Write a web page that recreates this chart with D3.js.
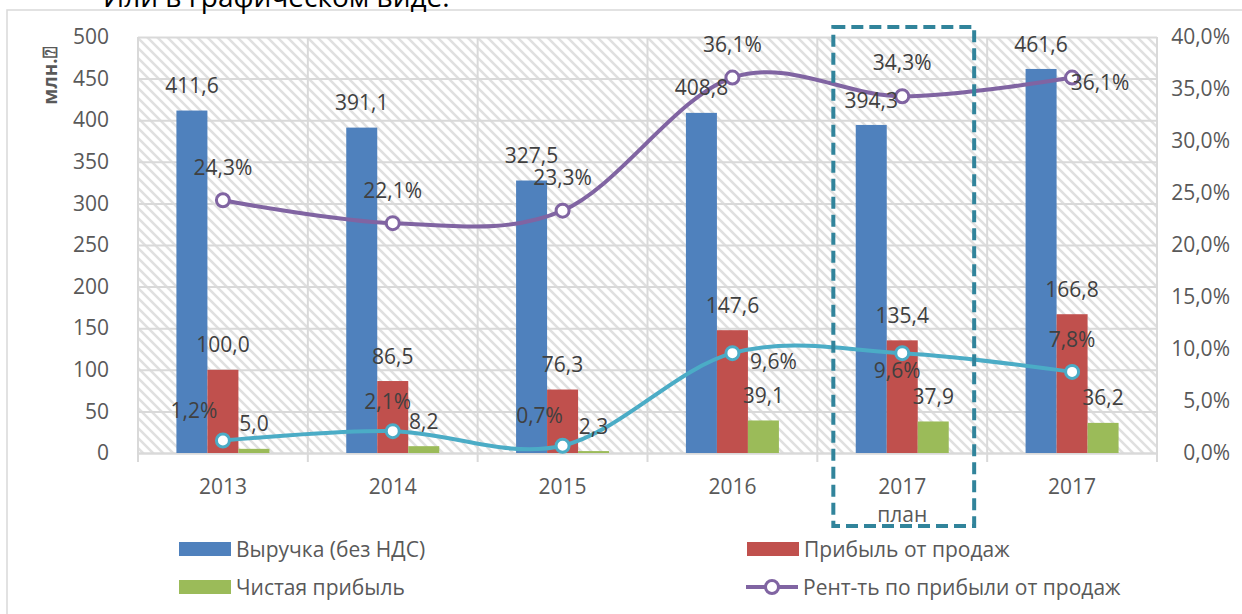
<!DOCTYPE html>
<html>
<head>
<meta charset="utf-8">
<script src="https://cdn.jsdelivr.net/npm/d3@7"></script>
<style>
    body { margin: 0; background: #fff; }
    svg { display: block; }
    text { font-family: "Open Sans", "Noto Sans", sans-serif; }
</style>
</head>
<body>
<div id="chart"></div>
<script>
// chart data
const categories = ["2013", "2014", "2015", "2016", "2017 план", "2017"];
const revenue = [411.6, 391.1, 327.5, 408.8, 394.3, 461.6];
const salesProfit = [100.0, 86.5, 76.3, 147.6, 135.4, 166.8];
const netProfit = [5.0, 8.2, 2.3, 39.1, 37.9, 36.2];
const salesMargin = [24.3, 22.1, 23.3, 36.1, 34.3, 36.1];
const netMargin = [1.2, 2.1, 0.7, 9.6, 9.6, 7.8];
const leftTicks = [0, 50, 100, 150, 200, 250, 300, 350, 400, 450, 500];
const rightTicks = [0, 5, 10, 15, 20, 25, 30, 35, 40];

// manual label placement for the line labels (dx, dy from the marker)
const salesMarginLabelPos = [[0, -33], [0, -33], [0, -33], [0, -33], [0, -34], [28, 5]];
const netMarginLabelPos = [[-29, -30], [-5, -30], [-23, -30], [41, 8], [-5, 17], [0, -32]];

const width = 1242;
const height = 614;
const plot = { left: 138, right: 1157, top: 37, bottom: 453 };

const ru = d3.formatLocale({ decimal: ",", thousands: " ", grouping: [3], currency: ["", ""] });
const f1 = ru.format(".1f");

const svg = d3.select("#chart")
    .append("svg")
    .attr("width", width)
    .attr("height", height);

// hatch pattern for the plot background
const pat = svg.append("defs").append("pattern")
    .attr("id", "hatch")
    .attr("patternUnits", "userSpaceOnUse")
    .attr("width", 10)
    .attr("height", 10);
pat.append("path")
    .attr("d", "M0,0 L10,10 M-5,5 L5,15 M5,-5 L15,5")
    .attr("stroke", "#e0e0e0")
    .attr("stroke-width", 2.6);

// outer frame and title (cut off at the top, as in the source picture)
svg.append("rect")
    .attr("x", 7).attr("y", 10)
    .attr("width", width + 20).attr("height", height)
    .attr("fill", "none")
    .attr("stroke", "#d9d9d9")
    .attr("stroke-width", 1.5);

svg.append("text")
    .attr("x", 103)
    .attr("y", 7)
    .attr("font-size", "28px")
    .attr("fill", "#000")
    .text("Или в графическом виде:");

// scales
const xScale = d3.scaleBand()
    .domain(categories)
    .range([plot.left, plot.right]);
const groupW = 93;
const xSub = d3.scaleBand()
    .domain(["revenue", "sales", "net"])
    .range([(xScale.bandwidth() - groupW) / 2, (xScale.bandwidth() + groupW) / 2]);
const yLeft = d3.scaleLinear().domain([0, 500]).range([plot.bottom, plot.top]);
const yRight = d3.scaleLinear().domain([0, 40]).range([plot.bottom, plot.top]);

svg.append("rect")
    .attr("x", plot.left).attr("y", plot.top)
    .attr("width", plot.right - plot.left)
    .attr("height", plot.bottom - plot.top)
    .attr("fill", "url(#hatch)");

// horizontal gridlines + left axis labels
const leftAxis = svg.append("g")
    .attr("transform", `translate(${plot.left}, 0)`)
    .call(d3.axisLeft(yLeft).tickValues(leftTicks).tickSize(-(plot.right - plot.left)).tickPadding(29));
leftAxis.select(".domain").remove();
leftAxis.selectAll("line").attr("stroke", "#d9d9d9").attr("stroke-width", 2);
leftAxis.selectAll("text")
    .attr("font-size", "21px")
    .attr("fill", "#595959")
    .attr("font-family", "Open Sans");

// right axis labels
const rightAxis = svg.append("g")
    .attr("transform", `translate(${plot.right}, 0)`)
    .call(d3.axisRight(yRight).tickValues(rightTicks).tickSize(0).tickFormat(d => f1(d) + "%"));
rightAxis.select(".domain").remove();
rightAxis.selectAll("text")
    .attr("x", 73)
    .attr("text-anchor", "end")
    .attr("font-size", "21px")
    .attr("fill", "#595959")
    .attr("font-family", "Open Sans");

// vertical gridlines at category edges, with ticks below the axis
const edges = categories.map(c => xScale(c)).concat([plot.right]);
svg.selectAll(".vgrid")
    .data(edges)
    .enter()
    .append("line")
    .attr("class", "vgrid")
    .attr("x1", d => d).attr("x2", d => d)
    .attr("y1", plot.top).attr("y2", plot.bottom + 9)
    .attr("stroke", "#d9d9d9")
    .attr("stroke-width", 2);

// bottom axis labels
const bottomAxis = svg.append("g")
    .attr("transform", `translate(0, ${plot.bottom})`)
    .call(d3.axisBottom(xScale).tickSize(0).tickFormat(""));
bottomAxis.select(".domain").attr("stroke", "#d9d9d9").attr("stroke-width", 2);
categories.forEach(function (c) {
    const parts = c.split(" ");
    const t = svg.append("text")
        .attr("x", xScale(c) + xScale.bandwidth() / 2)
        .attr("y", 494)
        .attr("text-anchor", "middle")
        .attr("font-size", "21px")
        .attr("fill", "#595959");
    parts.forEach(function (p, i) {
        t.append("tspan")
            .attr("x", xScale(c) + xScale.bandwidth() / 2)
            .attr("dy", i == 0 ? 0 : 28)
            .text(p);
    });
});

// bars
const barSeries = [
    { key: "revenue", values: revenue, color: "#4f81bd" },
    { key: "sales", values: salesProfit, color: "#c0504d" },
    { key: "net", values: netProfit, color: "#9bbb59" }
];
barSeries.forEach(function (s) {
    svg.selectAll(`.bar-${s.key}`)
        .data(s.values)
        .enter()
        .append("rect")
        .attr("class", `bar bar-${s.key}`)
        .attr("x", (d, i) => xScale(categories[i]) + xSub(s.key))
        .attr("y", d => yLeft(d))
        .attr("width", xSub.bandwidth())
        .attr("height", d => yLeft(0) - yLeft(d))
        .attr("fill", s.color);
});

// lines
const lineSeries = [
    { key: "sm", values: salesMargin, color: "#8064a2", pos: salesMarginLabelPos },
    { key: "nm", values: netMargin, color: "#4bacc6", pos: netMarginLabelPos }
];
const cx = i => xScale(categories[i]) + xScale.bandwidth() / 2;
lineSeries.forEach(function (s) {
    const line = d3.line()
        .x((d, i) => cx(i))
        .y(d => yRight(d))
        .curve(d3.curveCardinal.tension(0));
    svg.append("path")
        .attr("d", line(s.values))
        .attr("fill", "none")
        .attr("stroke", s.color)
        .attr("stroke-width", 4);
    svg.selectAll(`.dot-${s.key}`)
        .data(s.values)
        .enter()
        .append("circle")
        .attr("class", `dot-${s.key}`)
        .attr("cx", (d, i) => cx(i))
        .attr("cy", d => yRight(d))
        .attr("r", 6.5)
        .attr("fill", "#fff")
        .attr("stroke", s.color)
        .attr("stroke-width", 3);
});

// bar labels
barSeries.forEach(function (s) {
    svg.selectAll(`.lbl-${s.key}`)
        .data(s.values)
        .enter()
        .append("text")
        .attr("x", (d, i) => xScale(categories[i]) + xSub(s.key) + xSub.bandwidth() / 2)
        .attr("y", d => yLeft(d) - 25)
        .attr("dy", "0.36em")
        .attr("text-anchor", "middle")
        .attr("font-size", "21px")
        .attr("fill", "#404040")
        .text(d => f1(d));
});

// line labels
lineSeries.forEach(function (s) {
    svg.selectAll(`.lbl-${s.key}`)
        .data(s.values)
        .enter()
        .append("text")
        .attr("x", (d, i) => cx(i) + s.pos[i][0])
        .attr("y", (d, i) => yRight(d) + s.pos[i][1])
        .attr("dy", "0.36em")
        .attr("text-anchor", "middle")
        .attr("font-size", "21px")
        .attr("fill", "#404040")
        .text(d => f1(d) + "%");
});

// highlight box around the plan column
const plan = categories[4];
svg.append("rect")
    .attr("x", xScale(plan) + 16)
    .attr("y", 27)
    .attr("width", xScale.bandwidth() - 29)
    .attr("height", 499)
    .attr("fill", "none")
    .attr("stroke", "#31849b")
    .attr("stroke-width", 4)
    .attr("stroke-dasharray", "12,6");

// y-axis title
svg.append("text")
    .attr("transform", "translate(57, 76) rotate(-90)")
    .attr("text-anchor", "middle")
    .attr("font-size", "19px")
    .attr("font-weight", "bold")
    .attr("fill", "#595959")
    .text("млн.⍰");

// legend
const legend = [
    { name: "Выручка (без НДС)", color: "#4f81bd", x: 179, y: 549, type: "rect" },
    { name: "Прибыль от продаж", color: "#c0504d", x: 747, y: 549, type: "rect" },
    { name: "Чистая прибыль", color: "#9bbb59", x: 179, y: 587, type: "rect" },
    { name: "Рент-ть по прибыли от продаж", color: "#8064a2", x: 746, y: 587, type: "line" }
];
legend.forEach(function (l) {
    if (l.type == "rect") {
        svg.append("rect")
            .attr("x", l.x).attr("y", l.y - 7)
            .attr("width", 52).attr("height", 14)
            .attr("fill", l.color);
    }
    else {
        svg.append("line")
            .attr("x1", l.x).attr("x2", l.x + 52)
            .attr("y1", l.y).attr("y2", l.y)
            .attr("stroke", l.color)
            .attr("stroke-width", 4);
        svg.append("circle")
            .attr("cx", l.x + 26).attr("cy", l.y)
            .attr("r", 6.5)
            .attr("fill", "#fff")
            .attr("stroke", l.color)
            .attr("stroke-width", 3);
    }
    svg.append("text")
        .attr("x", l.x + 57)
        .attr("y", l.y)
        .attr("dy", "0.36em")
        .attr("font-size", "21px")
        .attr("fill", "#595959")
        .text(l.name);
});
</script>
</body>
</html>
